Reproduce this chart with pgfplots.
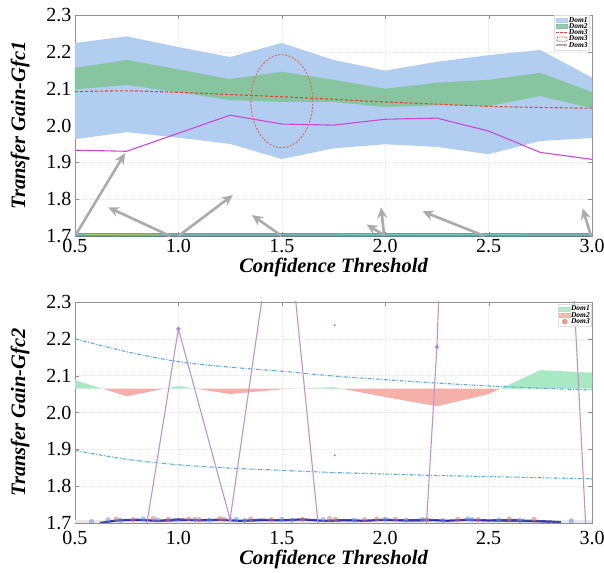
\documentclass[border=0pt]{standalone}
\usepackage{fontspec}
\setmainfont{Liberation Serif}
\usepackage{pgfplots}
\pgfplotsset{compat=1.18}
\usetikzlibrary{arrows.meta}
\definecolor{bandblue}{HTML}{B1CDEF}
\definecolor{bandgreen}{HTML}{86C5A0}
\definecolor{dashred}{HTML}{E8443A}
\definecolor{magline}{HTML}{CC48D4}
\definecolor{arrgray}{HTML}{ABABAB}
\definecolor{purpline}{HTML}{BE93D6}
\definecolor{purpdot}{HTML}{9B59B6}
\definecolor{dashblue}{HTML}{5DADE2}
\definecolor{fillgreen}{HTML}{A8E8C2}
\definecolor{fillred}{HTML}{F4B0A9}
\definecolor{navyc}{HTML}{2A2A9A}
\definecolor{dotred}{HTML}{E07064}
\definecolor{dotblue}{HTML}{6A8FE0}
\newcommand{\labfont}{\fontsize{20.5}{24}\selectfont\bfseries\itshape}
\pgfplotsset{
  myaxis/.style={
    scale only axis, width=517pt, height=221pt,
    xmin=0.5, xmax=3.0, ymin=1.7, ymax=2.3,
    xtick={0.5,1.0,1.5,2.0,2.5,3.0},
    ytick={1.7,1.8,1.9,2.0,2.1,2.2,2.3},
    /pgf/number format/assume math mode=true,
    /pgf/number format/fixed,
    /pgf/number format/fixed zerofill,
    /pgf/number format/precision=1,
    tick label style={font=\fontsize{20}{22}\selectfont},
    axis line style={draw=gray!85},
    tick style={draw=gray!85},
    major tick length=4pt,
    tick align=inside,
    grid=major,
    major grid style={draw=gray!22, line width=0.4pt, dash pattern=on 1pt off 1pt},
    every axis y label/.style={at={(axis description cs:-0.1064,0.5)}, rotate=90, anchor=center, font=\labfont},
    every axis x label/.style={at={(axis description cs:0.5,-0.142)}, anchor=center, font=\labfont},
    xlabel={Confidence Threshold},
    legend cell align=left,
  }
}
\begin{document}
\begin{tikzpicture}
%================ TOP =================
\begin{axis}[myaxis, anchor=north west, at={(0pt,0pt)},
  ylabel={Transfer Gain-Gfc1},
  legend style={at={(axis description cs:0.995,0.998)}, anchor=north east,
    font=\fontsize{7.5}{7}\selectfont\bfseries\itshape,
    draw=gray!25, fill=white, fill opacity=0.85, text opacity=1,
    inner sep=1pt, row sep=-1.2pt,
    nodes={inner sep=0.5pt}},
]
\addplot[fill=bandblue, draw=none, forget plot] coordinates {
(0.5,2.224)(0.75,2.242)(1.0,2.213)(1.25,2.186)(1.5,2.224)(1.75,2.178)(2.0,2.149)(2.25,2.173)(2.5,2.191)(2.75,2.205)(3.0,2.13)
(3.0,1.966)(2.75,1.958)(2.5,1.922)(2.25,1.942)(2.0,1.949)(1.75,1.938)(1.5,1.909)(1.25,1.95)(1.0,1.967)(0.75,1.982)(0.5,1.963)};
\addplot[fill=bandgreen, draw=none, forget plot] coordinates {
(0.5,2.156)(0.75,2.178)(1.0,2.152)(1.25,2.126)(1.5,2.146)(1.75,2.124)(2.0,2.10)(2.25,2.116)(2.5,2.124)(2.75,2.143)(3.0,2.091)
(3.0,2.047)(2.75,2.08)(2.5,2.053)(2.25,2.055)(2.0,2.05)(1.75,2.064)(1.5,2.064)(1.25,2.069)(1.0,2.09)(0.75,2.11)(0.5,2.098)};
\addplot[dashred, line width=1.1pt, dash pattern=on 3pt off 2pt, smooth, forget plot] coordinates {
(0.5,2.092)(0.75,2.094)(1.0,2.090)(1.25,2.084)(1.5,2.078)(1.75,2.071)(2.0,2.064)(2.25,2.058)(2.5,2.052)(2.75,2.049)(3.0,2.047)};
\addplot[magline, line width=1.1pt, forget plot] coordinates {
(0.5,1.933)(0.75,1.930)(1.0,1.979)(1.25,2.028)(1.5,2.004)(1.75,2.001)(2.0,2.017)(2.25,2.020)(2.5,1.985)(2.75,1.927)(3.0,1.908)};
\draw[dashred!85, line width=0.9pt, dash pattern=on 2pt off 1.5pt] (axis cs:1.5,2.066) ellipse [x radius=31pt, y radius=46.5pt];
% bottom thin band
\addplot[draw=gray!70!teal, line width=3.5pt, opacity=0.8, forget plot] coordinates {(0.5,1.7025)(3.0,1.7025)};
\addplot[draw=teal!50!cyan!60, line width=1pt, opacity=0.7, forget plot] coordinates {(0.5,1.7035)(1.5,1.7030)(2.2,1.7040)(3.0,1.7030)};
\addplot[draw=yellow!70!olive, line width=0.8pt, opacity=0.5, forget plot] coordinates {(0.55,1.7035)(0.9,1.7035)};
% arrows
\begin{scope}[arrgray, line width=2.6pt, -{Stealth[length=11pt, width=10pt]}]
\draw (axis cs:0.5,1.70) -- (axis cs:0.742,1.925);
\draw (axis cs:0.96,1.70) -- (axis cs:0.66,1.778);
\draw (axis cs:1.0,1.70) -- (axis cs:1.263,1.811);
\draw (axis cs:1.5,1.70) -- (axis cs:1.355,1.757);
\draw (axis cs:1.995,1.70) -- (axis cs:1.98,1.778);
\draw (axis cs:1.99,1.704) -- (axis cs:1.91,1.731);
\draw (axis cs:2.48,1.70) -- (axis cs:2.18,1.767);
\draw (axis cs:2.995,1.70) -- (axis cs:2.955,1.775);
\end{scope}
\addlegendimage{legend image code/.code={\fill[bandblue] (0pt,-2pt) rectangle (11pt,2pt);}}
\addlegendentry{Dom1}
\addlegendimage{legend image code/.code={\fill[bandgreen] (0pt,-2pt) rectangle (11pt,2pt);}}
\addlegendentry{Dom2}
\addlegendimage{legend image code/.code={\draw[dashred, line width=0.9pt, dash pattern=on 2.5pt off 1.5pt] (0pt,0pt) -- (11pt,0pt);}}
\addlegendentry{Dom3}
\addlegendimage{legend image code/.code={\draw[dashred, line width=0.7pt, dash pattern=on 1.5pt off 1pt, rounded corners=1pt] (0.5pt,-2.2pt) rectangle (10.5pt,2.2pt);}}
\addlegendentry{Dom3}
\addlegendimage{legend image code/.code={\draw[arrgray, line width=2pt] (0pt,0pt) -- (11pt,0pt);}}
\addlegendentry{Dom3}
\end{axis}
%================ BOTTOM =================
\begin{axis}[myaxis, anchor=north west, at={(0pt,-287pt)},
  ylabel={Transfer Gain-Gfc2},
  xticklabel style={yshift=-5pt},
  every axis x label/.style={at={(axis description cs:0.5,-0.167)}, anchor=center, font=\labfont},
  legend style={at={(axis description cs:0.999,0.99)}, anchor=north east,
    font=\fontsize{7.5}{7}\selectfont\bfseries\itshape,
    draw=gray!25, fill=white, fill opacity=0.85, text opacity=1,
    inner sep=1pt, row sep=-1.2pt,
    nodes={inner sep=0.5pt}},
]
% green / red fills around baseline 2.065
\addplot[fill=fillgreen, draw=none, forget plot] coordinates {(0.5,2.065)(0.5,2.088)(0.631,2.065)};
\addplot[fill=fillred, draw=none, forget plot] coordinates {(0.631,2.065)(0.75,2.044)(0.9375,2.065)};
\addplot[fill=fillgreen, draw=none, forget plot] coordinates {(0.9375,2.065)(1.0,2.072)(1.08,2.065)};
\addplot[fill=fillred, draw=none, forget plot] coordinates {(1.08,2.065)(1.25,2.050)(1.5,2.063)(1.583,2.065)};
\addplot[fill=fillgreen, draw=none, forget plot] coordinates {(1.583,2.065)(1.75,2.069)(1.787,2.065)};
\addplot[fill=fillred, draw=none, forget plot] coordinates {(1.787,2.065)(2.0,2.042)(2.25,2.017)(2.5,2.050)(2.558,2.065)};
\addplot[fill=fillgreen, draw=none, forget plot] coordinates {(2.558,2.065)(2.75,2.115)(3.0,2.108)(3.0,2.065)};
% dash-dot blue curves
\addplot[dashblue, line width=1.1pt, dash pattern=on 4pt off 1.5pt on 1pt off 1.5pt, smooth, forget plot] coordinates {
(0.5,2.200)(0.75,2.165)(1.0,2.138)(1.25,2.123)(1.5,2.112)(1.75,2.099)(2.0,2.089)(2.25,2.080)(2.5,2.072)(2.75,2.066)(3.0,2.061)};
\addplot[dashblue, line width=1.1pt, dash pattern=on 4pt off 1.5pt on 1pt off 1.5pt, smooth, forget plot] coordinates {
(0.5,1.897)(0.75,1.873)(1.0,1.858)(1.25,1.849)(1.5,1.843)(1.75,1.837)(2.0,1.833)(2.25,1.829)(2.5,1.826)(2.75,1.823)(3.0,1.820)};
\addplot[only marks, mark=*, mark size=0.9pt, dashblue, forget plot] coordinates {(1.756,2.237)(1.756,1.884)};
% faint band
\addplot[draw=gray!18, line width=3pt, forget plot] coordinates {(0.5,1.7035)(3.0,1.7035)};
% dense cluster at the floor
\addplot[only marks, mark=*, mark size=2.3pt, dotred, opacity=0.5, forget plot] coordinates {
(0.70,1.711)(0.78,1.709)(0.88,1.712)(0.95,1.710)(1.05,1.711)(1.10,1.709)(1.20,1.712)(1.22,1.710)(1.35,1.711)(1.45,1.709)(1.60,1.710)(1.73,1.712)(1.76,1.710)(1.90,1.709)(1.96,1.711)(2.05,1.710)(2.20,1.709)(2.35,1.710)(2.45,1.709)(2.60,1.711)(2.72,1.710)};
\addplot[only marks, mark=*, mark size=2.3pt, dotblue, opacity=0.5, forget plot] coordinates {
(0.58,1.704)(0.66,1.709)(0.72,1.707)(0.83,1.711)(0.90,1.708)(1.08,1.710)(1.15,1.708)(1.28,1.710)(1.32,1.707)(1.50,1.710)(1.55,1.708)(1.70,1.709)(1.85,1.708)(2.00,1.710)(2.10,1.708)(2.18,1.709)(2.28,1.707)(2.40,1.711)(2.42,1.709)(2.55,1.708)(2.65,1.707)(2.90,1.706)};
\addplot[navyc, line width=2.2pt, opacity=0.85, forget plot] coordinates {
(0.62,1.700)(0.70,1.707)(0.80,1.709)(0.90,1.706)(1.00,1.710)(1.10,1.707)(1.20,1.709)(1.30,1.706)(1.40,1.709)(1.50,1.707)(1.60,1.710)(1.70,1.706)(1.80,1.708)(1.90,1.706)(2.00,1.709)(2.10,1.707)(2.20,1.709)(2.30,1.706)(2.40,1.709)(2.50,1.707)(2.60,1.708)(2.70,1.706)(2.80,1.704)(2.85,1.702)};
\addplot[navyc!70!blue, line width=1pt, opacity=0.7, forget plot] coordinates {
(0.65,1.703)(0.75,1.708)(0.95,1.705)(1.15,1.709)(1.35,1.705)(1.55,1.709)(1.75,1.705)(1.95,1.708)(2.15,1.705)(2.35,1.708)(2.55,1.705)(2.75,1.703)(2.80,1.702)};
% purple zigzag line
\addplot[purpline, line width=1.1pt, mark=*, mark size=1.6pt, mark options={fill=purpdot, draw=none}, forget plot] coordinates {
(0.75,1.36)(1.0,2.227)(1.25,1.71)(1.5,2.68)(1.75,1.28)(2.0,-0.2)(2.25,2.178)(2.5,5.9)(2.75,4.1)(3.0,1.36)};
\addlegendimage{legend image code/.code={\fill[fillgreen] (0pt,-2pt) rectangle (11pt,2pt);}}
\addlegendentry{Dom1}
\addlegendimage{legend image code/.code={\fill[fillred] (0pt,-2pt) rectangle (11pt,2pt);}}
\addlegendentry{Dom2}
\addlegendimage{legend image code/.code={\fill[dotred!80] (5.5pt,0pt) circle (2.6pt);}}
\addlegendentry{Dom3}
\end{axis}
\pgfresetboundingbox
\useasboundingbox (-75pt,15pt) rectangle (529pt,-557pt);
\end{tikzpicture}
\end{document}
